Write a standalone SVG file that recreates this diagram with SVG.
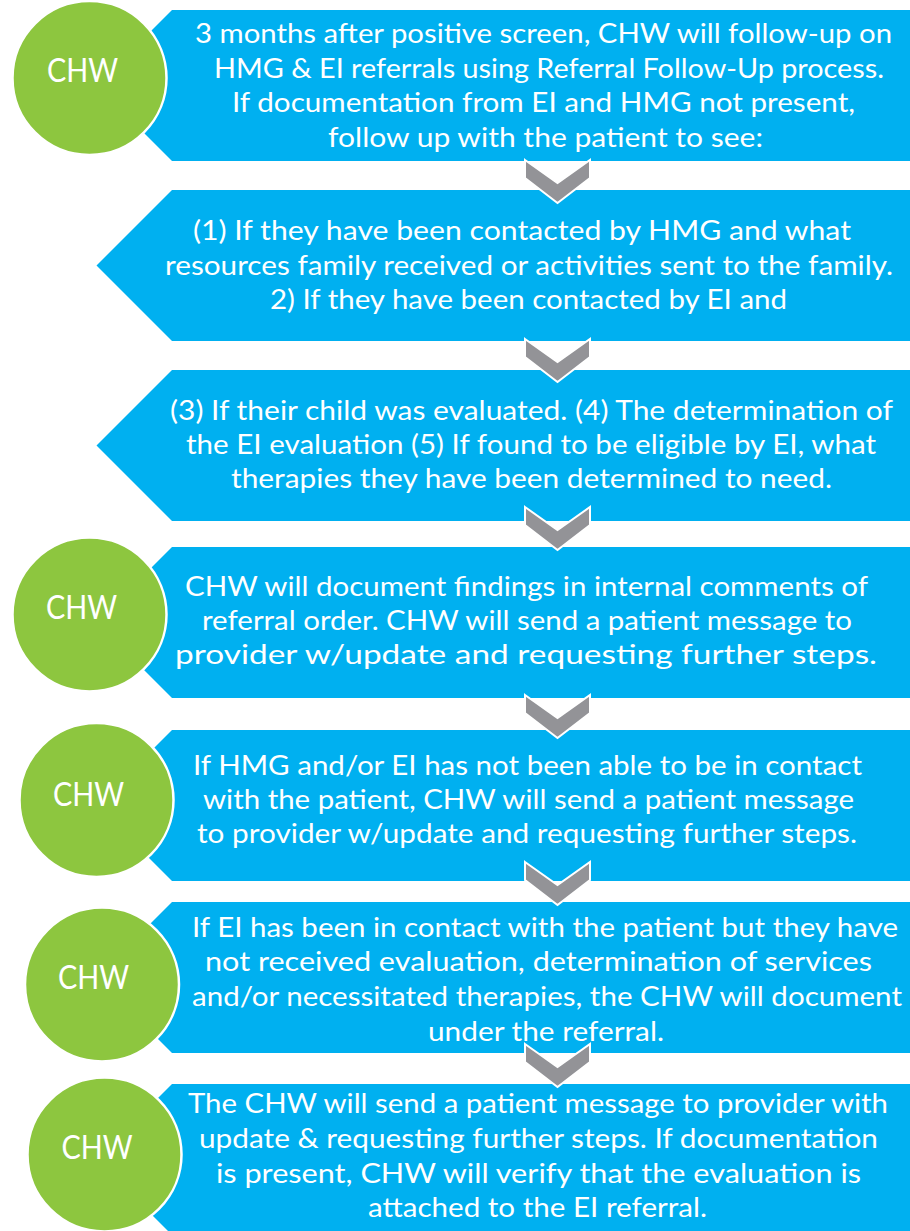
<svg xmlns="http://www.w3.org/2000/svg" width="910" height="1231" viewBox="0 0 910 1231">
<style>
.box{fill:#00B0F0}
.circ{fill:#8DC63F;stroke:#FFFFFF;stroke-width:2.5}
.chev{fill:#939397;stroke:#FFFFFF;stroke-width:2;stroke-linejoin:miter}
.t{font-family:Lato,"Open Sans","Liberation Sans",sans-serif;font-size:27px;fill:#FFFFFF}
.c{font-family:Lato,"Open Sans","Liberation Sans",sans-serif;font-size:33.5px;fill:#FFFFFF}
</style>
<rect width="910" height="1231" fill="#FFFFFF"/>
<g id="step1">
<path class="box" d="M172,10 H912 V161 H172 L96.5,85.5 Z"/>
<text class="t" x="195" y="43" textLength="697" lengthAdjust="spacingAndGlyphs">3 months after positive screen, CHW will follow-up on</text>
<text class="t" x="214" y="78" textLength="670" lengthAdjust="spacingAndGlyphs">HMG &amp; EI referrals using Referral Follow-Up process.</text>
<text class="t" x="232" y="112" textLength="623" lengthAdjust="spacingAndGlyphs">If documentation from EI and HMG not present,</text>
<text class="t" x="328" y="147" textLength="435" lengthAdjust="spacingAndGlyphs">follow up with the patient to see:</text>
</g>
<g id="step2">
<path class="box" d="M172,190 H912 V341 H172 L96.5,265.5 Z"/>
<text class="t" x="193" y="240" textLength="658" lengthAdjust="spacingAndGlyphs">(1) If they have been contacted by HMG and what</text>
<text class="t" x="165" y="275" textLength="728" lengthAdjust="spacingAndGlyphs">resources family received or activities sent to the family.</text>
<text class="t" x="270" y="309" textLength="517" lengthAdjust="spacingAndGlyphs">2) If they have been contacted by EI and</text>
</g>
<g id="step3">
<path class="box" d="M172,370 H912 V521 H172 L96.5,445.5 Z"/>
<text class="t" x="170" y="420" textLength="723" lengthAdjust="spacingAndGlyphs">(3) If their child was evaluated. (4) The determination of</text>
<text class="t" x="186" y="454" textLength="690" lengthAdjust="spacingAndGlyphs">the EI evaluation (5) If found to be eligible by EI, what</text>
<text class="t" x="231" y="488" textLength="601" lengthAdjust="spacingAndGlyphs">therapies they have been determined to need.</text>
</g>
<g id="step4">
<path class="box" d="M172,547 H912 V698 H172 L96.5,622.5 Z"/>
<text class="t" x="185" y="596" textLength="683" lengthAdjust="spacingAndGlyphs">CHW will document findings in internal comments of</text>
<text class="t" x="202" y="630" textLength="650" lengthAdjust="spacingAndGlyphs">referral order. CHW will send a patient message to</text>
<text class="t" x="175" y="664" textLength="702" lengthAdjust="spacingAndGlyphs">provider w/update and requesting further steps.</text>
</g>
<g id="step5">
<path class="box" d="M172,730 H912 V881 H172 L96.5,805.5 Z"/>
<text class="t" x="193" y="775" textLength="669" lengthAdjust="spacingAndGlyphs">If HMG and/or EI has not been able to be in contact</text>
<text class="t" x="203" y="809" textLength="651" lengthAdjust="spacingAndGlyphs">with the patient, CHW will send a patient message</text>
<text class="t" x="197" y="843" textLength="660" lengthAdjust="spacingAndGlyphs">to provider w/update and requesting further steps.</text>
</g>
<g id="step6">
<path class="box" d="M172,902 H912 V1053 H172 L96.5,977.5 Z"/>
<text class="t" x="192" y="937" textLength="706" lengthAdjust="spacingAndGlyphs">If EI has been in contact with the patient but they have</text>
<text class="t" x="205" y="971" textLength="667" lengthAdjust="spacingAndGlyphs">not received evaluation, determination of services</text>
<text class="t" x="192" y="1006" textLength="710" lengthAdjust="spacingAndGlyphs">and/or necessitated therapies, the CHW will document</text>
<text class="t" x="428" y="1041" textLength="236" lengthAdjust="spacingAndGlyphs">under the referral.</text>
</g>
<g id="step7">
<path class="box" d="M172,1084 H912 V1235 H172 L96.5,1159.5 Z"/>
<text class="t" x="188" y="1113" textLength="700" lengthAdjust="spacingAndGlyphs">The CHW will send a patient message to provider with</text>
<text class="t" x="199" y="1148" textLength="679" lengthAdjust="spacingAndGlyphs">update &amp; requesting further steps. If documentation</text>
<text class="t" x="216" y="1183" textLength="645" lengthAdjust="spacingAndGlyphs">is present, CHW will verify that the evaluation is</text>
<text class="t" x="368" y="1217" textLength="339" lengthAdjust="spacingAndGlyphs">attached to the EI referral.</text>
</g>
<g id="chw1">
<circle class="circ" cx="89.5" cy="78" r="77"/>
<text class="c" x="47" y="82" textLength="71" lengthAdjust="spacingAndGlyphs">CHW</text>
</g>
<g id="chw4">
<circle class="circ" cx="89.5" cy="614.5" r="77"/>
<text class="c" x="46" y="619" textLength="71" lengthAdjust="spacingAndGlyphs">CHW</text>
</g>
<g id="chw5">
<circle class="circ" cx="96.5" cy="800" r="77"/>
<text class="c" x="53" y="806" textLength="71" lengthAdjust="spacingAndGlyphs">CHW</text>
</g>
<g id="chw6">
<circle class="circ" cx="102" cy="984.5" r="77"/>
<text class="c" x="58" y="989" textLength="71" lengthAdjust="spacingAndGlyphs">CHW</text>
</g>
<g id="chw7">
<circle class="circ" cx="104.5" cy="1154.5" r="77"/>
<text class="c" x="61.5" y="1159" textLength="71" lengthAdjust="spacingAndGlyphs">CHW</text>
</g>
<g id="connectors">
<path class="chev" d="M525,160 L557.5,183 L590,160 V178 L557.5,203 L525,178 Z"/>
<path class="chev" d="M525,339 L557.5,362 L590,339 V357 L557.5,382 L525,357 Z"/>
<path class="chev" d="M525,507 L557.5,530 L590,507 V525 L557.5,550 L525,525 Z"/>
<path class="chev" d="M525,695 L557.5,718 L590,695 V713 L557.5,738 L525,713 Z"/>
<path class="chev" d="M525,862 L557.5,885 L590,862 V880 L557.5,905 L525,880 Z"/>
<path class="chev" d="M525,1044 L557.5,1067 L590,1044 V1062 L557.5,1087 L525,1062 Z"/>
</g>
</svg>
